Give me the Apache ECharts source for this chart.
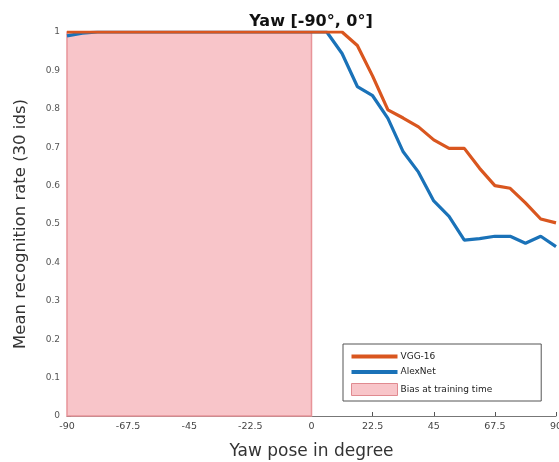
<!DOCTYPE html>
<html>
<head>
<meta charset="utf-8">
<script src="https://cdn.jsdelivr.net/npm/echarts@6/dist/echarts.min.js"></script>
<style>
  html, body { margin: 0; padding: 0; background: #fff; }
  #chart { width: 559px; height: 462px; }
</style>
</head>
<body>
<div id="chart"></div>
<script>
// yaw samples, step 5.625 deg
const yaw = [];
for (let i = 0; i <= 32; i++) yaw.push(-90 + i * 5.625);

const vgg16 = [
  1, 1, 1, 1, 1, 1, 1, 1, 1, 1, 1, 1, 1, 1, 1, 1,
  1, 1, 1, 0.965, 0.885, 0.797, 0.776, 0.753, 0.719, 0.697,
  0.697, 0.645, 0.600, 0.593, 0.555, 0.513, 0.503
];
const alexnet = [
  0.99, 0.997, 1, 1, 1, 1, 1, 1, 1, 1, 1, 1, 1, 1, 1, 1,
  1, 1, 0.944, 0.858, 0.834, 0.775, 0.688, 0.635, 0.560, 0.520,
  0.458, 0.462, 0.468, 0.468, 0.450, 0.468, 0.441
];
const biasRange = [-90, 0];
const xTicks = [-90, 90, 22.5];   // min, max, step
const yTicks = [0, 1, 0.1];

const font = 'DejaVu Sans';
const pink = '#f8c5c9';
const lineIcon = 'path://M0,0H46V4H0Z';

let chart = echarts.init(document.getElementById('chart'));
chart.setOption({
  animation: false,
  textStyle: { fontFamily: font },
  title: {
    text: 'Yaw [-90°, 0°]',
    left: 306, top: 9, textAlign: 'center',
    textStyle: { fontSize: 16, fontWeight: 'bold', color: '#111', fontFamily: font }
  },
  grid: { left: 67, right: 3, top: 32, bottom: 46, outerBoundsMode: 'none', containLabel: false },
  legend: {
    orient: 'vertical',
    left: 343, top: 344,
    padding: [8, 49, 5, 8],
    itemGap: 6.5,
    itemWidth: 46, itemHeight: 12,
    symbolKeepAspect: true,
    borderColor: '#555', borderWidth: 1,
    backgroundColor: '#fff',
    textStyle: { fontSize: 9, color: '#222', fontFamily: font, padding: [0, 0, 0, -2] },
    data: [
      { name: 'VGG-16', icon: lineIcon, itemStyle: { color: '#d9561f' } },
      { name: 'AlexNet', icon: lineIcon, itemStyle: { color: '#1a72b8' } },
      { name: 'Bias at training time', icon: 'rect',
        itemStyle: { color: pink, borderColor: '#e08a90', borderWidth: 1 } }
    ]
  },
  xAxis: {
    type: 'value',
    min: xTicks[0], max: xTicks[1], interval: xTicks[2],
    name: 'Yaw pose in degree',
    nameLocation: 'middle', nameGap: 27.5,
    nameTextStyle: { fontSize: 17, color: '#333' },
    axisLine: { onZero: false, lineStyle: { color: '#777' } },
    axisTick: { inside: true, length: 4, lineStyle: { color: '#555' } },
    axisLabel: { fontSize: 9.5, color: '#444', margin: 6 },
    splitLine: { show: false }
  },
  yAxis: {
    type: 'value',
    min: yTicks[0], max: yTicks[1], interval: yTicks[2],
    name: 'Mean recognition rate (30 ids)',
    nameLocation: 'middle', nameGap: 38,
    nameTextStyle: { fontSize: 16.5, color: '#333' },
    axisLine: { show: true, onZero: false, lineStyle: { color: '#777' } },
    axisTick: { show: true, inside: true, length: 4, lineStyle: { color: '#555' } },
    axisLabel: { fontSize: 9, color: '#555', margin: 7 },
    splitLine: { show: false }
  },
  series: [
    {
      name: 'Bias at training time',
      type: 'line',
      data: [],
      itemStyle: { color: pink },
      markArea: {
        silent: true,
        itemStyle: { color: pink, borderColor: '#e89499', borderWidth: 1.5 },
        data: [[{ xAxis: biasRange[0], yAxis: 0 }, { xAxis: biasRange[1], yAxis: 1 }]]
      }
    },
    {
      name: 'AlexNet',
      type: 'line',
      symbol: 'none',
      z: 3,
      data: yaw.map((x, i) => [x, alexnet[i]]),
      lineStyle: { color: '#1a72b8', width: 3.2 },
      itemStyle: { color: '#1a72b8' }
    },
    {
      name: 'VGG-16',
      type: 'line',
      symbol: 'none',
      z: 4,
      data: yaw.map((x, i) => [x, vgg16[i]]),
      lineStyle: { color: '#d9561f', width: 3.2 },
      itemStyle: { color: '#d9561f' }
    }
  ]
});
</script>
</body>
</html>
